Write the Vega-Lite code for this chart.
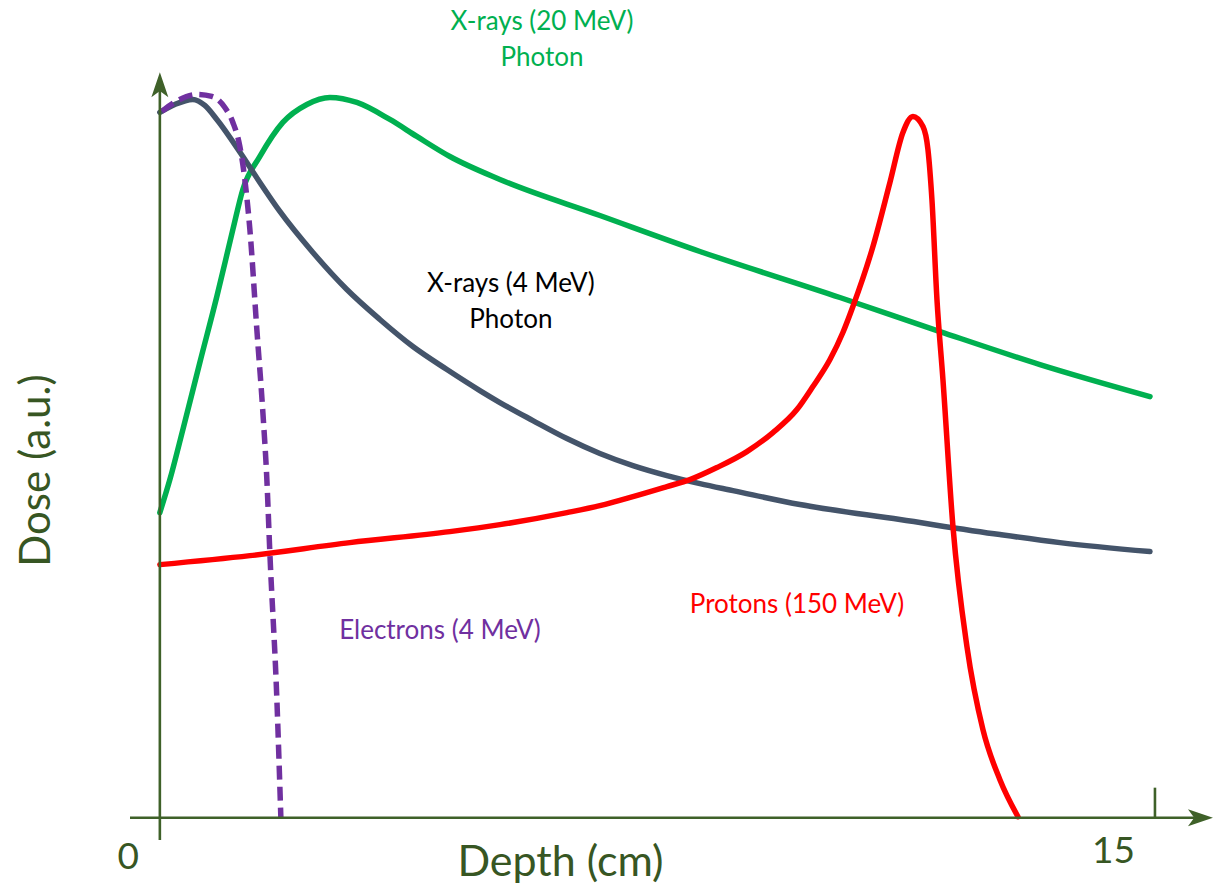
{
  "$schema": "https://vega.github.io/schema/vega-lite/v6.json",
  "width": 1084,
  "height": 773,
  "autosize": {"type": "none"},
  "padding": {"left": 130, "top": 67, "right": 0, "bottom": 45},
  "background": "white",
  "config": {"view": {"stroke": null}, "font": "Lato"},
  "datasets": {
    "curves": [
      {"series": "X-rays 20 MeV", "x": 0, "y": 41.05},
      {"series": "X-rays 20 MeV", "x": 0.151, "y": 45.49},
      {"series": "X-rays 20 MeV", "x": 0.347, "y": 52.22},
      {"series": "X-rays 20 MeV", "x": 0.603, "y": 61.24},
      {"series": "X-rays 20 MeV", "x": 0.859, "y": 70.12},
      {"series": "X-rays 20 MeV", "x": 1.101, "y": 79.14},
      {"series": "X-rays 20 MeV", "x": 1.251, "y": 84.52},
      {"series": "X-rays 20 MeV", "x": 1.508, "y": 88.96},
      {"series": "X-rays 20 MeV", "x": 1.854, "y": 93.54},
      {"series": "X-rays 20 MeV", "x": 2.216, "y": 95.96},
      {"series": "X-rays 20 MeV", "x": 2.563, "y": 96.9},
      {"series": "X-rays 20 MeV", "x": 2.97, "y": 96.23},
      {"series": "X-rays 20 MeV", "x": 3.467, "y": 93.94},
      {"series": "X-rays 20 MeV", "x": 3.874, "y": 91.66},
      {"series": "X-rays 20 MeV", "x": 4.372, "y": 88.96},
      {"series": "X-rays 20 MeV", "x": 5.126, "y": 85.87},
      {"series": "X-rays 20 MeV", "x": 6.633, "y": 81.02},
      {"series": "X-rays 20 MeV", "x": 8.141, "y": 76.18},
      {"series": "X-rays 20 MeV", "x": 10.251, "y": 69.99},
      {"series": "X-rays 20 MeV", "x": 11.759, "y": 65.41},
      {"series": "X-rays 20 MeV", "x": 13.266, "y": 60.97},
      {"series": "X-rays 20 MeV", "x": 14.925, "y": 56.66},

      {"series": "X-rays 4 MeV", "x": 0, "y": 94.89},
      {"series": "X-rays 4 MeV", "x": 0.226, "y": 95.96},
      {"series": "X-rays 4 MeV", "x": 0.497, "y": 96.64},
      {"series": "X-rays 4 MeV", "x": 0.678, "y": 95.83},
      {"series": "X-rays 4 MeV", "x": 0.859, "y": 93.94},
      {"series": "X-rays 4 MeV", "x": 1.251, "y": 88.96},
      {"series": "X-rays 4 MeV", "x": 1.508, "y": 85.46},
      {"series": "X-rays 4 MeV", "x": 1.809, "y": 81.56},
      {"series": "X-rays 4 MeV", "x": 2.307, "y": 76.04},
      {"series": "X-rays 4 MeV", "x": 2.819, "y": 71.06},
      {"series": "X-rays 4 MeV", "x": 3.317, "y": 67.03},
      {"series": "X-rays 4 MeV", "x": 3.814, "y": 63.39},
      {"series": "X-rays 4 MeV", "x": 4.327, "y": 60.3},
      {"series": "X-rays 4 MeV", "x": 4.824, "y": 57.47},
      {"series": "X-rays 4 MeV", "x": 5.126, "y": 55.86},
      {"series": "X-rays 4 MeV", "x": 5.623, "y": 53.43},
      {"series": "X-rays 4 MeV", "x": 6.136, "y": 51.01},
      {"series": "X-rays 4 MeV", "x": 6.633, "y": 49.0},
      {"series": "X-rays 4 MeV", "x": 7.131, "y": 47.37},
      {"series": "X-rays 4 MeV", "x": 7.643, "y": 46.03},
      {"series": "X-rays 4 MeV", "x": 8.141, "y": 44.95},
      {"series": "X-rays 4 MeV", "x": 8.638, "y": 44.01},
      {"series": "X-rays 4 MeV", "x": 9.648, "y": 42.13},
      {"series": "X-rays 4 MeV", "x": 11.156, "y": 40.11},
      {"series": "X-rays 4 MeV", "x": 12.663, "y": 38.09},
      {"series": "X-rays 4 MeV", "x": 13.568, "y": 37.01},
      {"series": "X-rays 4 MeV", "x": 14.925, "y": 35.8},

      {"series": "Electrons 4 MeV", "x": 0.03, "y": 95.02},
      {"series": "Electrons 4 MeV", "x": 0.271, "y": 96.5},
      {"series": "Electrons 4 MeV", "x": 0.558, "y": 97.31},
      {"series": "Electrons 4 MeV", "x": 0.784, "y": 97.04},
      {"series": "Electrons 4 MeV", "x": 0.98, "y": 95.56},
      {"series": "Electrons 4 MeV", "x": 1.101, "y": 93.54},
      {"series": "Electrons 4 MeV", "x": 1.206, "y": 90.31},
      {"series": "Electrons 4 MeV", "x": 1.281, "y": 85.87},
      {"series": "Electrons 4 MeV", "x": 1.357, "y": 79.14},
      {"series": "Electrons 4 MeV", "x": 1.462, "y": 65.68},
      {"series": "Electrons 4 MeV", "x": 1.553, "y": 54.51},
      {"series": "Electrons 4 MeV", "x": 1.613, "y": 45.49},
      {"series": "Electrons 4 MeV", "x": 1.658, "y": 35.67},
      {"series": "Electrons 4 MeV", "x": 1.764, "y": 15.88},
      {"series": "Electrons 4 MeV", "x": 1.824, "y": 0},

      {"series": "Protons 150 MeV", "x": 0, "y": 34.05},
      {"series": "Protons 150 MeV", "x": 1.357, "y": 35.26},
      {"series": "Protons 150 MeV", "x": 2.864, "y": 37.01},
      {"series": "Protons 150 MeV", "x": 4.372, "y": 38.49},
      {"series": "Protons 150 MeV", "x": 5.126, "y": 39.43},
      {"series": "Protons 150 MeV", "x": 6.136, "y": 41.05},
      {"series": "Protons 150 MeV", "x": 6.633, "y": 41.99},
      {"series": "Protons 150 MeV", "x": 7.131, "y": 43.2},
      {"series": "Protons 150 MeV", "x": 7.643, "y": 44.55},
      {"series": "Protons 150 MeV", "x": 7.99, "y": 45.49},
      {"series": "Protons 150 MeV", "x": 8.397, "y": 47.11},
      {"series": "Protons 150 MeV", "x": 8.849, "y": 49.26},
      {"series": "Protons 150 MeV", "x": 9.241, "y": 51.82},
      {"series": "Protons 150 MeV", "x": 9.603, "y": 54.91},
      {"series": "Protons 150 MeV", "x": 9.844, "y": 58.01},
      {"series": "Protons 150 MeV", "x": 10.101, "y": 61.64},
      {"series": "Protons 150 MeV", "x": 10.296, "y": 65.28},
      {"series": "Protons 150 MeV", "x": 10.447, "y": 68.78},
      {"series": "Protons 150 MeV", "x": 10.749, "y": 76.85},
      {"series": "Protons 150 MeV", "x": 11.005, "y": 85.46},
      {"series": "Protons 150 MeV", "x": 11.201, "y": 92.19},
      {"series": "Protons 150 MeV", "x": 11.352, "y": 94.35},
      {"series": "Protons 150 MeV", "x": 11.503, "y": 93.0},
      {"series": "Protons 150 MeV", "x": 11.578, "y": 89.91},
      {"series": "Protons 150 MeV", "x": 11.638, "y": 83.18},
      {"series": "Protons 150 MeV", "x": 11.714, "y": 69.72},
      {"series": "Protons 150 MeV", "x": 11.804, "y": 58.95},
      {"series": "Protons 150 MeV", "x": 11.955, "y": 39.17},
      {"series": "Protons 150 MeV", "x": 12.166, "y": 23.01},
      {"series": "Protons 150 MeV", "x": 12.407, "y": 11.84},
      {"series": "Protons 150 MeV", "x": 12.663, "y": 5.11},
      {"series": "Protons 150 MeV", "x": 12.935, "y": 0.13}
    ],
    "axislines": [
      {"part": "x axis", "x": -0.45, "x2": 15.6, "y": 0, "y2": 0},
      {"part": "y axis", "x": 0, "x2": 0, "y": -3, "y2": 98},
      {"part": "tick 15", "x": 15, "x2": 15, "y": 0, "y2": 4.04}
    ],
    "arrows": [
      {"arrow": "x", "x": 15.686, "y": 0},
      {"arrow": "y", "x": 0, "y": 98.6}
    ],
    "labels": [
      {"series": "X-rays 20 MeV", "text": "X-rays (20 MeV)\nPhoton", "x": 5.759, "y": 107.0},
      {"series": "X-rays 4 MeV", "text": "X-rays (4 MeV)\nPhoton", "x": 5.291, "y": 71.87},
      {"series": "Electrons 4 MeV", "text": "Electrons (4 MeV)", "x": 4.221, "y": 25.17},
      {"series": "Protons 150 MeV", "text": "Protons (150 MeV)", "x": 9.603, "y": 28.67}
    ]
  },
  "layer": [
    {
      "data": {"name": "curves"},
      "transform": [{"filter": "datum.series !== 'Electrons 4 MeV'"}],
      "mark": {"type": "line", "strokeWidth": 5.5, "interpolate": "monotone", "strokeCap": "round", "clip": false},
      "encoding": {
        "x": {
          "field": "x", "type": "quantitative",
          "scale": {"domain": [-0.45, 15.89], "nice": false, "zero": false},
          "axis": {
            "values": [0, 15], "format": "d", "grid": false, "domain": false, "ticks": false,
            "labelFont": "Lato", "labelFontSize": 37, "labelColor": "#375623", "labelFlush": false,
            "labelAlign": "center",
            "labelOffset": {"condition": {"test": "datum.value === 15", "value": -42}, "value": -32},
            "labelPadding": {"condition": {"test": "datum.value === 15", "value": 11}, "value": 17},
            "labelBaseline": "middle",
            "title": "Depth (cm)", "titleFont": "Lato", "titleFontSize": 43, "titleFontWeight": "normal",
            "titleColor": "#375623", "titleX": 430, "titleY": 22, "titleAlign": "center", "titleBaseline": "middle"
          }
        },
        "y": {
          "field": "y", "type": "quantitative",
          "scale": {"domain": [-3, 101], "nice": false, "zero": false},
          "axis": {
            "labels": false, "ticks": false, "domain": false, "grid": false,
            "title": "Dose (a.u.)", "titleFont": "Lato", "titleFontSize": 42, "titleFontWeight": "normal",
            "titleColor": "#375623", "titleX": -94, "titleY": 403, "titleAngle": -90,
            "titleAlign": "center", "titleBaseline": "middle"
          }
        },
        "color": {
          "field": "series", "type": "nominal", "legend": null,
          "scale": {
            "domain": ["X-rays 4 MeV", "X-rays 20 MeV", "Electrons 4 MeV", "Protons 150 MeV"],
            "range": ["#44546a", "#00b050", "#7030a0", "#ff0000"]
          }
        },
        "order": {"field": "x", "type": "quantitative"}
      }
    },
    {
      "data": {"name": "curves"},
      "transform": [{"filter": "datum.series === 'Electrons 4 MeV'"}],
      "mark": {"type": "line", "strokeWidth": 5.5, "interpolate": "monotone", "strokeDash": [14, 7], "clip": false},
      "encoding": {
        "x": {"field": "x", "type": "quantitative"},
        "y": {"field": "y", "type": "quantitative"},
        "color": {"field": "series", "type": "nominal", "legend": null},
        "order": {"field": "x", "type": "quantitative"}
      }
    },
    {
      "data": {"name": "axislines"},
      "mark": {"type": "rule", "color": "#3f6129", "strokeWidth": 2.6, "clip": false},
      "encoding": {
        "x": {"field": "x", "type": "quantitative"},
        "x2": {"field": "x2"},
        "y": {"field": "y", "type": "quantitative"},
        "y2": {"field": "y2"}
      }
    },
    {
      "data": {"name": "arrows"},
      "transform": [{"filter": "datum.arrow === 'x'"}],
      "mark": {"type": "point", "filled": true, "opacity": 1, "color": "#3f6129", "size": 625, "shape": "M1,0L-1,0.68L-0.5,0L-1,-0.68Z", "clip": false},
      "encoding": {
        "x": {"field": "x", "type": "quantitative"},
        "y": {"field": "y", "type": "quantitative"}
      }
    },
    {
      "data": {"name": "arrows"},
      "transform": [{"filter": "datum.arrow === 'y'"}],
      "mark": {"type": "point", "filled": true, "opacity": 1, "color": "#3f6129", "size": 625, "shape": "M0,-1L0.68,1L0,0.5L-0.68,1Z", "clip": false},
      "encoding": {
        "x": {"field": "x", "type": "quantitative"},
        "y": {"field": "y", "type": "quantitative"}
      }
    },
    {
      "data": {"name": "labels"},
      "mark": {"type": "text", "font": "Lato", "fontSize": 26, "align": "center", "baseline": "middle", "lineBreak": "\n", "lineHeight": 36, "clip": false},
      "encoding": {
        "x": {"field": "x", "type": "quantitative"},
        "y": {"field": "y", "type": "quantitative"},
        "text": {"field": "text"},
        "fill": {
          "field": "series", "type": "nominal", "legend": null,
          "scale": {
            "domain": ["X-rays 4 MeV", "X-rays 20 MeV", "Electrons 4 MeV", "Protons 150 MeV"],
            "range": ["#000000", "#00b050", "#7030a0", "#ff0000"]
          }
        }
      }
    }
  ]
}
